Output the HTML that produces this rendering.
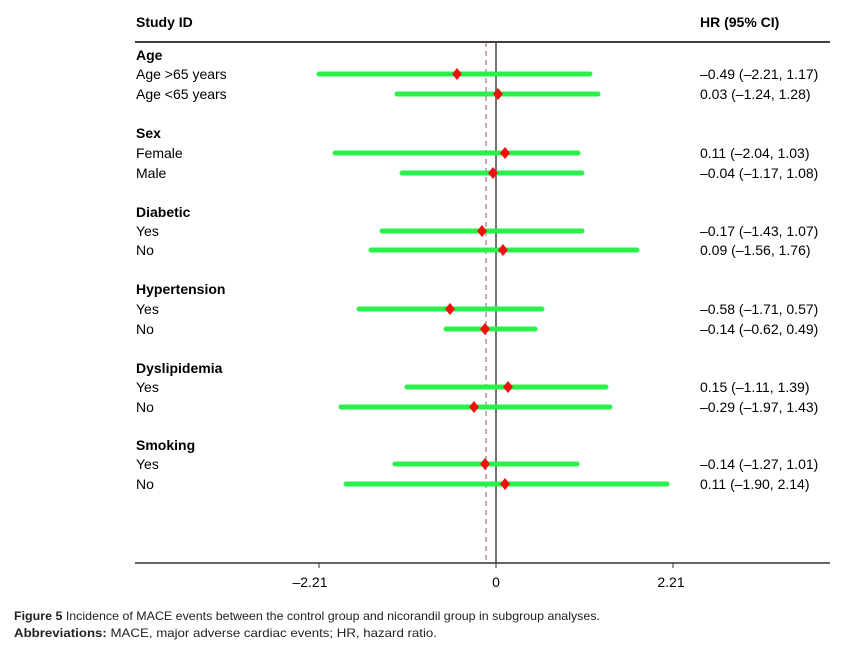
<!DOCTYPE html>
<html><head><meta charset="utf-8"><style>
body{margin:0;background:#fff;width:845px;height:645px;overflow:hidden}
svg text{font-family:"Liberation Sans",Arial,sans-serif}
</style></head><body>
<svg width="845" height="645" viewBox="0 0 845 645" xmlns="http://www.w3.org/2000/svg">
<g font-size="14" fill="#000">
<text x="136" y="27" font-weight="bold">Study ID</text>
<text x="700" y="27" font-weight="bold">HR (95% CI)</text>
</g>
<line x1="135" y1="42" x2="830" y2="42" stroke="#000" stroke-width="1.5"/>
<line x1="496" y1="42" x2="496" y2="563" stroke="#444" stroke-width="1.5"/>
<line x1="486" y1="42" x2="486" y2="563" stroke="#a05060" stroke-width="1" stroke-dasharray="5,4"/>
<line x1="135" y1="563" x2="830" y2="563" stroke="#333" stroke-width="1.5"/>
<g stroke="#333" stroke-width="1"><line x1="319" y1="563" x2="319" y2="568"/><line x1="496" y1="563" x2="496" y2="568"/><line x1="673" y1="563" x2="673" y2="568"/></g>
<g font-size="14" text-anchor="middle"><text x="310" y="587">–2.21</text><text x="496" y="587">0</text><text x="671" y="587">2.21</text></g>
<g font-size="14" font-weight="bold">
<text x="136" y="60">Age</text><text x="136" y="138">Sex</text><text x="136" y="217">Diabetic</text>
<text x="136" y="294">Hypertension</text><text x="136" y="373">Dyslipidemia</text><text x="136" y="450">Smoking</text>
</g>
<g font-size="14">
<text x="136" y="79">Age &gt;65 years</text><text x="136" y="99">Age &lt;65 years</text>
<text x="136" y="158">Female</text><text x="136" y="178">Male</text>
<text x="136" y="236">Yes</text><text x="136" y="255">No</text>
<text x="136" y="314">Yes</text><text x="136" y="334">No</text>
<text x="136" y="392">Yes</text><text x="136" y="412">No</text>
<text x="136" y="469">Yes</text><text x="136" y="489">No</text>
<text x="700" y="79">–0.49 (–2.21, 1.17)</text><text x="700" y="99">0.03 (–1.24, 1.28)</text>
<text x="700" y="158">0.11 (–2.04, 1.03)</text><text x="700" y="178">–0.04 (–1.17, 1.08)</text>
<text x="700" y="236">–0.17 (–1.43, 1.07)</text><text x="700" y="255">0.09 (–1.56, 1.76)</text>
<text x="700" y="314">–0.58 (–1.71, 0.57)</text><text x="700" y="334">–0.14 (–0.62, 0.49)</text>
<text x="700" y="392">0.15 (–1.11, 1.39)</text><text x="700" y="412">–0.29 (–1.97, 1.43)</text>
<text x="700" y="469">–0.14 (–1.27, 1.01)</text><text x="700" y="489">0.11 (–1.90, 2.14)</text>
</g>
<g stroke="#2af04a" stroke-width="5" stroke-linecap="round">
<line x1="319" y1="74" x2="590" y2="74"/><line x1="397" y1="94" x2="598" y2="94"/>
<line x1="335" y1="153" x2="578" y2="153"/><line x1="402" y1="173" x2="582" y2="173"/>
<line x1="382" y1="231" x2="582" y2="231"/><line x1="371" y1="250" x2="637" y2="250"/>
<line x1="359" y1="309" x2="542" y2="309"/><line x1="446" y1="329" x2="535" y2="329"/>
<line x1="407" y1="387" x2="606" y2="387"/><line x1="341" y1="407" x2="610" y2="407"/>
<line x1="395" y1="464" x2="577" y2="464"/><line x1="346" y1="484" x2="667" y2="484"/>
</g>
<g fill="#ee1111">
<path d="M457 68l5 6-5 6-5-6z"/><path d="M498 88l5 6-5 6-5-6z"/>
<path d="M505 147l5 6-5 6-5-6z"/><path d="M493 167l5 6-5 6-5-6z"/>
<path d="M482 225l5 6-5 6-5-6z"/><path d="M503 244l5 6-5 6-5-6z"/>
<path d="M450 303l5 6-5 6-5-6z"/><path d="M485 323l5 6-5 6-5-6z"/>
<path d="M508 381l5 6-5 6-5-6z"/><path d="M474 401l5 6-5 6-5-6z"/>
<path d="M485 458l5 6-5 6-5-6z"/><path d="M505 478l5 6-5 6-5-6z"/>
</g>
<g font-size="12" fill="#222">
<text x="14" y="620" textLength="586" lengthAdjust="spacingAndGlyphs"><tspan font-weight="bold">Figure 5</tspan> Incidence of MACE events between the control group and nicorandil group in subgroup analyses.</text>
<text x="14" y="637" textLength="423" lengthAdjust="spacingAndGlyphs"><tspan font-weight="bold">Abbreviations:</tspan> MACE, major adverse cardiac events; HR, hazard ratio.</text>
</g>
</svg>
</body></html>
